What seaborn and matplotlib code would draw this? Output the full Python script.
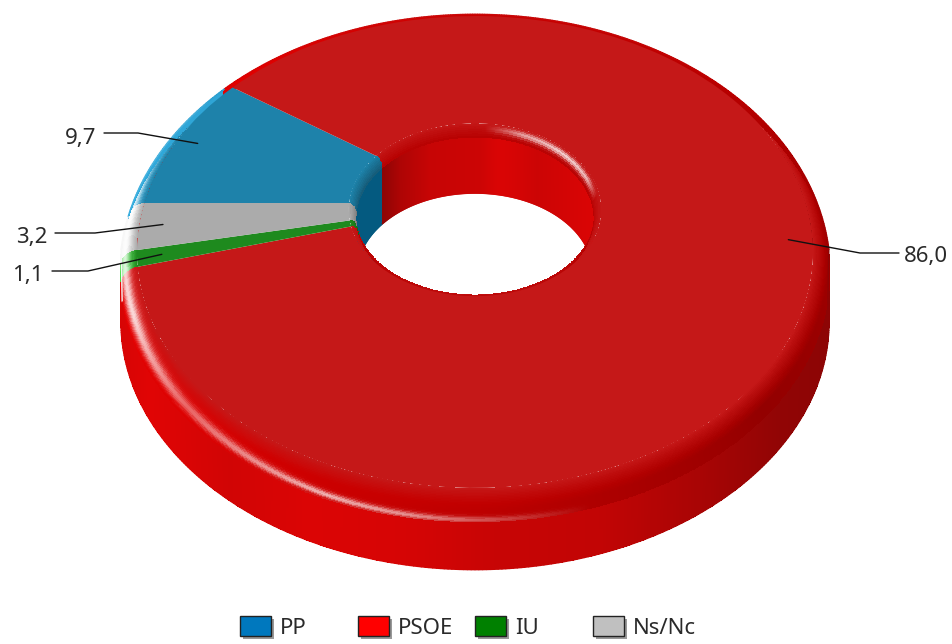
import numpy as np
import matplotlib
matplotlib.use("Agg")
import matplotlib.pyplot as plt
import matplotlib.transforms as mtransforms
from matplotlib.collections import LineCollection
from matplotlib.patches import Rectangle
import seaborn as sns

# Datos
partidos = ["PP", "PSOE", "IU", "Ns/Nc"]
valores = [9.7, 86.0, 1.1, 3.2]

# Colores
col_cara = ["#1E82AA", "#C51818", "#1E8A1E", "#ABABAB"]
col_borde = ["#2A94C0", "#CC0000", "#30C030", "#D8D8D8"]
col_leyenda = ["#0078BE", "#FF0000", "#008000", "#C0C0C0"]

# Rotulos: codo y final de cada linea guia, posicion del texto
codos = [(138, 133), (860, 253), (88, 271), (95, 233)]
finales = [(104, 133), (899, 253), (52, 271), (55, 233)]
textos = [(96, 138), (948, 256), (44, 275), (47, 237)]

# Camara
CX, CY, A, B, K = 475.0, 203.0, 330.7, 225.8, 0.2076
DZ, ESC = 65.0, 0.995
R_HUECO, R_PARED = 0.38, 0.358
R_EXT, Z_BISEL, Z_HUECO = 1.05, 0.25, 0.15


def proyecta(x, y, z=0.0):
    w = 1 + K * y
    s = 1 - (1 - ESC) * z
    return CX + s * A * x / w, CY + DZ * z - s * B * y / w


class Perspectiva(mtransforms.Transform):
    input_dims = output_dims = 2

    def transform_non_affine(self, xy):
        xy = np.asarray(xy, dtype=float)
        return np.column_stack(proyecta(xy[:, 0], xy[:, 1]))


sns.set_theme(style="white")
plt.rcParams["font.family"] = ["Noto Sans", "DejaVu Sans"]

fig = plt.figure(figsize=(9.52, 6.44), dpi=100)
ax = fig.add_axes([0, 0, 1, 1])

# Limites de las porciones, en sentido horario desde 180 grados
limites = 180 - 360 * np.cumsum([0] + valores) / sum(valores)


def indices(theta):
    frac = ((180 - theta) % 360) / 360 * sum(valores)
    return np.clip(np.searchsorted(np.cumsum(valores), frac, side="right"), 0, len(valores) - 1)


def rgb(lista):
    return np.array([matplotlib.colors.to_rgb(c) for c in lista])


def malla(theta, phi, radio, altura, color, zorder):
    t_b, p_b = np.meshgrid(theta, phi)
    r, z = radio(p_b), altura(p_b)
    x, y = proyecta(r * np.cos(np.radians(t_b)), r * np.sin(np.radians(t_b)), z)
    t_c, p_c = np.meshgrid((theta[:-1] + theta[1:]) / 2, (phi[:-1] + phi[1:]) / 2)
    xc = (x[:-1, :-1] + x[1:, 1:]) / 2
    ax.pcolormesh(x, y, np.clip(color(t_c, p_c, xc), 0, 1), shading="flat",
                  edgecolors="none", linewidth=0, antialiased=False, zorder=zorder)


def contorno(x, y, colores, zorder):
    # linea suavizada para que el borde de la malla no quede dentado
    puntos = np.column_stack([x, y]).reshape(-1, 1, 2)
    tramos = np.concatenate([puntos[:-1], puntos[1:]], axis=1)
    ax.add_collection(LineCollection(tramos, colors=np.clip(colores, 0, 1), linewidths=1.0,
                                     antialiased=True, zorder=zorder, capstyle="round"))


# Pared exterior, color segun la x de pantalla
pared_x = [118, 150, 230, 310, 400, 500, 600, 700, 780, 832]
pared_r = [0.84, 0.88, 0.82, 0.86, 0.84, 0.78, 0.76, 0.66, 0.57, 0.55]


def color_pared(t, p, x):
    c = np.zeros(t.shape + (3,))
    c[..., 0] = np.interp(x, pared_x, pared_r)
    c[..., 1] = c[..., 2] = 0.02
    return c


tt = np.linspace(-200, 20, 441)
malla(tt, np.linspace(0, 1, 3), lambda p: R_EXT + 0 * p, lambda p: Z_BISEL + (1 - Z_BISEL) * p,
      color_pared, 1)

# Bisel exterior
tono_t = [0, 45, 90, 135, 180, 225, 270, 315, 360]
tono_v = [0.80, 0.92, 1.0, 1.1, 1.15, 1.08, 0.93, 0.72, 0.80]
brillo_t = [150, 180, 205, 225, 250, 262, 285]
brillo_a = [0.1, 0.8, 0.85, 0.4, 0.7, 0.55, 0.0]
brillo_p = [0.35, 0.45, 0.5, 0.65, 0.85, 0.9, 0.95]
brillo_s = [0.2, 0.22, 0.22, 0.16, 0.1, 0.1, 0.1]


def color_bisel(t, p, x):
    t = t % 360
    i = indices(t)
    cara, borde = rgb(col_cara)[i], rgb(col_borde)[i]
    mezcla = np.clip(p * 2.2, 0, 1)[..., None]
    tono = 1 + (np.interp(t, tono_t, tono_v) - 1) * np.clip(p * 1.6, 0, 1)
    c = (cara * (1 - mezcla) + borde * mezcla) * tono[..., None]
    ancho = np.interp(t, brillo_t, brillo_s)
    s = np.interp(t, brillo_t, brillo_a, left=0, right=0) * np.exp(-((p - np.interp(t, brillo_t, brillo_p)) / ancho) ** 2)
    return np.clip(c + (1 - c) * s[..., None], 0, 1)


tt = np.linspace(-180, 180, 1441)
radio_b = lambda p: 1 + (R_EXT - 1) * np.sin(p * np.pi / 2)
altura_b = lambda p: Z_BISEL * (1 - np.cos(p * np.pi / 2))
malla(tt, np.linspace(0, 1, 25), radio_b, altura_b, color_bisel, 2)

# Silueta exterior
t_sil = np.linspace(-180, 180, 721)
p_sil = np.linspace(0, 1, 41)
sil_x, sil_y, sil_c = [], [], []
for t in t_sil:
    c, s = np.cos(np.radians(t)), np.sin(np.radians(t))
    xs, ys = proyecta(radio_b(p_sil) * c, radio_b(p_sil) * s, altura_b(p_sil))
    xp, yp = proyecta(R_EXT * c, R_EXT * s, 1.0)
    d = (xs - CX) ** 2 + ((ys - 270) * 1.3) ** 2
    j = np.argmax(d)
    if (xp - CX) ** 2 + ((yp - 270) * 1.3) ** 2 > d[j]:
        sil_x.append(xp)
        sil_y.append(yp)
        sil_c.append(color_pared(np.array(t), np.array(1.0), np.array(xp)))
    else:
        sil_x.append(xs[j])
        sil_y.append(ys[j])
        sil_c.append(color_bisel(np.array(t), np.array(p_sil[j]), np.array(xs[j])))
contorno(np.array(sil_x), np.array(sil_y), np.array(sil_c)[:-1], 2.5)

# Pared del hueco
hueco_x = [345, 383, 400, 430, 480, 497, 505, 520, 537, 587, 610]
hueco_r = [0.55, 0.56, 0.68, 0.78, 0.80, 0.85, 0.85, 0.83, 0.80, 0.85, 0.85]
azul_pared = matplotlib.colors.to_rgb("#045A80")
limite_pp = limites[1]


def color_hueco(t, p, x):
    c = np.zeros(np.shape(t) + (3,))
    c[..., 0] = np.interp(x, hueco_x, hueco_r)
    c[..., 1] = c[..., 2] = 0.02
    tm = np.asarray(t) % 360
    c[(tm > limite_pp) & (tm < 235)] = azul_pared
    return c


tt = np.linspace(-180, 180, 721)
malla(tt, np.linspace(0, 1, 3), lambda p: R_PARED + 0 * p, lambda p: Z_HUECO + (1 - Z_HUECO) * p,
      color_hueco, 3)
xh, yh = proyecta(R_PARED * np.cos(np.radians(tt)), R_PARED * np.sin(np.radians(tt)), 1.0)
contorno(xh, yh, color_hueco(tt[:-1], 0 * tt[:-1], xh[:-1]), 3.5)

# Bisel del hueco
bh_t = [5, 20, 40, 65, 85]
bh_a = [0.0, 0.7, 0.8, 0.6, 0.0]


def color_bisel_hueco(t, p, x):
    t180 = ((t + 180) % 360) - 180
    i = indices(t % 360)
    cara = rgb(col_cara)[i]
    oscuro = np.where((i == 1)[..., None], np.array([0.72, 0.0, 0.0]), cara * 0.7)
    c = cara * (1 - p[..., None]) + oscuro * p[..., None]
    s = np.interp(t180, bh_t, bh_a, left=0, right=0) * np.exp(-((p - 0.45) / 0.22) ** 2)
    return c + (1 - c) * s[..., None]


malla(tt, np.linspace(0, 1, 9), lambda p: R_HUECO + (R_PARED - R_HUECO) * np.sin(p * np.pi / 2),
      lambda p: Z_HUECO * (1 - np.cos(p * np.pi / 2)), color_bisel_hueco, 4)

# Cara superior: la tarta de matplotlib pasada por la perspectiva
paleta = sns.color_palette(col_cara)
cunas, _ = ax.pie(valores, colors=paleta, startangle=180, counterclock=False, radius=1,
                  wedgeprops=dict(width=1 - R_HUECO, linewidth=0))
persp = Perspectiva() + ax.transData
for cuna in cunas:
    cuna.set_transform(persp)
    cuna.set_zorder(5)

ax.set_aspect("auto")
ax.set_xlim(0, 952)
ax.set_ylim(644, 0)
ax.axis("off")

# Lineas guia y rotulos
for i, v in enumerate(valores):
    medio = np.radians((limites[i] + limites[i + 1]) / 2)
    px, py = proyecta(0.93 * np.cos(medio), 0.93 * np.sin(medio))
    ax.plot([px, codos[i][0], finales[i][0]], [py, codos[i][1], finales[i][1]],
            color="#111111", lw=1.0, zorder=6)
    ax.text(textos[i][0], textos[i][1], f"{v:.1f}".replace(".", ","), ha="right", va="center",
            fontsize=16, color="#2A2A2A", zorder=7)

# Leyenda
for i, nombre in enumerate(partidos):
    x0 = 240 + i * 117.7
    ax.add_patch(Rectangle((x0 + 3, 619), 31, 20, facecolor="#999999", edgecolor="none", zorder=6))
    ax.add_patch(Rectangle((x0, 616), 31, 20, facecolor=col_leyenda[i], edgecolor="#222222", lw=1.0, zorder=7))
    ax.text(x0 + 40, 629, nombre, ha="left", va="center", fontsize=16, color="#2A2A2A", zorder=7)

fig.savefig("out.png", dpi=100, facecolor="white")
